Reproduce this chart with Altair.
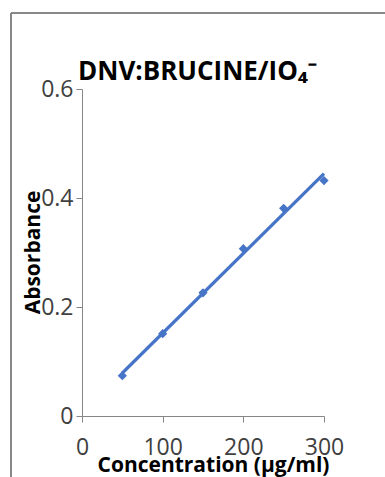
import altair as alt
import pandas as pd

conc = [50, 100, 150, 200, 250, 300]
absorb = [0.074, 0.151, 0.226, 0.307, 0.381, 0.432]
x_ticks = [0, 100, 200, 300]
y_ticks = [0, 0.2, 0.4, 0.6]
title_text = ["DNV:BRUCINE/IO₄⁻"]

df = pd.DataFrame({"x": conc, "y": absorb})
tdf = pd.DataFrame({"t": title_text})
FONT = "Open Sans"
BLUE = "#4674c6"
GRAY = "#868686"

base = alt.Chart(df)

xenc = alt.X("x:Q", scale=alt.Scale(domain=[0, 300], nice=False),
             axis=alt.Axis(values=x_ticks, title="Concentration (µg/ml)",
                           labelFlush=False, labelPadding=14,
                           titleX=131, titleY=55, titleBaseline="alphabetic",
                           titleAnchor="middle", titleAlign="center"))
yenc = alt.Y("y:Q", scale=alt.Scale(domain=[0, 0.6], nice=False),
             axis=alt.Axis(values=y_ticks, title="Absorbance", format="~g",
                           labelPadding=3,
                           titleX=-49, titleY=163, titleAngle=270,
                           titleAlign="center", titleBaseline="middle"))

trend = base.transform_regression("x", "y", method="linear").mark_line(
    color=BLUE, strokeWidth=3.2).encode(x=xenc, y=yenc)
pts = base.mark_point(shape="diamond", filled=True, size=85, color=BLUE,
                      opacity=1).encode(x="x:Q", y="y:Q")

frame_v = base.mark_rule(color=GRAY, strokeWidth=1).encode(
    x=alt.value(-71), y=alt.value(-76), y2=alt.value(400))
frame_h = base.mark_rule(color=GRAY, strokeWidth=1).encode(
    x=alt.value(-71), x2=alt.value(320), y=alt.value(-76))

title = alt.Chart(tdf).mark_text(
    align="left", baseline="alphabetic", font=FONT, fontSize=26,
    fontWeight="bold", color="#000000").encode(
    text="t:N", x=alt.value(-4), y=alt.value(-9))

chart = alt.layer(trend, pts, frame_v, frame_h, title).properties(
    width=242, height=327,
    autosize=alt.AutoSizeParams(type="none"),
    padding={"left": 82, "top": 89, "right": 61, "bottom": 61},
    background="white",
).configure_view(stroke=None).configure_axis(
    grid=False, domainColor=GRAY, tickColor=GRAY, tickSize=6,
    labelFont=FONT, labelFontSize=23, labelColor="#404040",
    titleFont=FONT, titleFontSize=21, titleFontWeight="bold",
    titleColor="#000000",
)

chart.save("out.html", embed_options={"renderer": "svg", "actions": False})
